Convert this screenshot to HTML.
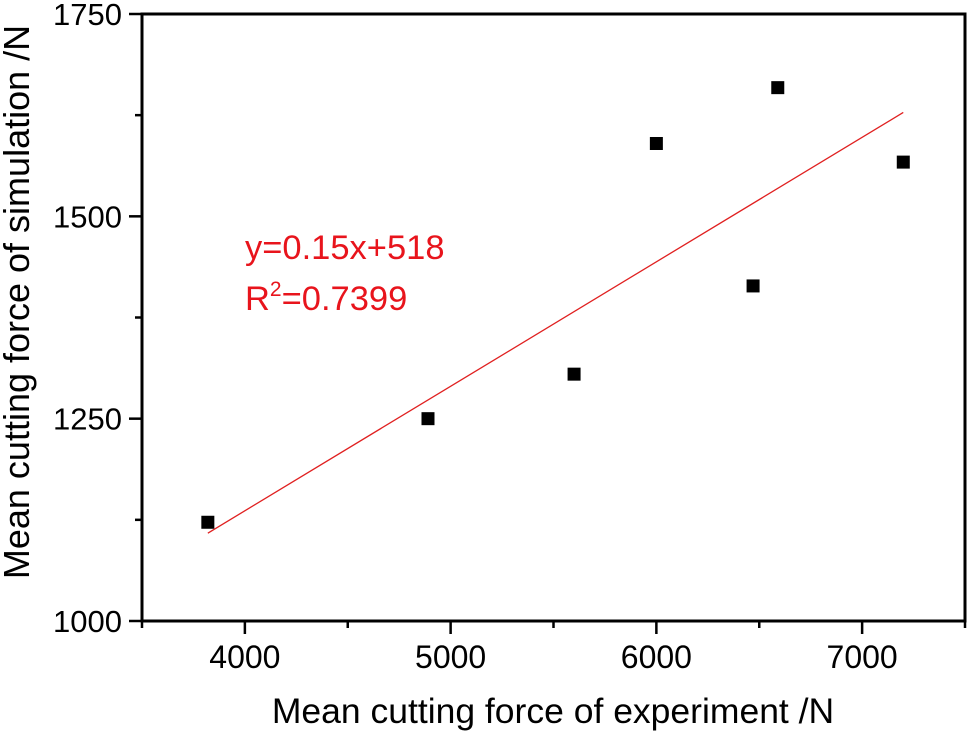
<!DOCTYPE html>
<html><head><meta charset="utf-8"><style>
html,body{margin:0;padding:0;background:#fff;}
svg{display:block;font-family:"Liberation Sans",Arial,sans-serif;}
</style></head><body>
<svg id="chart" width="968" height="733"></svg>
<script>
const xTicks=[4000,5000,6000,7000];
const yTicks=[1000,1250,1500,1750];
const xVals=[3820,4890,5600,6000,6470,6590,7200];
const yVals=[1122,1250,1305,1590,1414,1659,1567];
const fitSlope=0.1538, fitIntercept=521;
const fitRange=[3820,7200];
const L=142,R=965,T=14,B=621;
const X=v=>L+(v-3500)/4000*(R-L);
const Y=v=>B-(v-1000)/750*(B-T);
const NS='http://www.w3.org/2000/svg';
const svg=document.getElementById('chart');
function mk(t,a,p){const e=document.createElementNS(NS,t);for(const k in a)e.setAttribute(k,a[k]);(p||svg).appendChild(e);return e;}
const frame=mk('rect',{x:L,y:T,width:R-L,height:B-T,fill:'none',stroke:'#000','stroke-width':3});


for(let v=3500;v<=7500;v+=500){
  const major=v%1000===0;
  const t=mk('line',{x1:X(v),x2:X(v),y1:B,y2:B+(major?13:7),stroke:'#000','stroke-width':2.5});
  
  
}
xTicks.forEach(v=>{const t=mk('text',{x:X(v),y:668,'text-anchor':'middle','font-size':32});t.textContent=v;
  
  });
for(let v=1000;v<=1750;v+=125){
  const major=v%250===0;
  const t=mk('line',{x1:L,x2:L-(major?13:7),y1:Y(v),y2:Y(v),stroke:'#000','stroke-width':2.5});
  
  
}
yTicks.forEach(v=>{const t=mk('text',{x:122,y:Y(v)+11,'text-anchor':'end','font-size':31});t.textContent=v;
  
  });
const xt=mk('text',{x:553,y:723,'text-anchor':'middle','font-size':35.5});xt.textContent='Mean cutting force of experiment /N';


const yt=mk('text',{x:0,y:0,'text-anchor':'middle','font-size':36,transform:'translate(29,302) rotate(-90)'});yt.textContent='Mean cutting force of simulation /N';


const fl=mk('line',{x1:X(fitRange[0]),y1:Y(fitSlope*fitRange[0]+fitIntercept),x2:X(fitRange[1]),y2:Y(fitSlope*fitRange[1]+fitIntercept),stroke:'#e02020','stroke-width':1.3});


xVals.forEach((xv,i)=>{const p=mk('rect',{x:X(xv)-6.5,y:Y(yVals[i])-6.5,width:13,height:13,fill:'#000'});
  
  });
const eq=mk('text',{x:245,y:259,'font-size':34.5,fill:'#e8141c'});eq.textContent='y=0.15x+518';


const r2=mk('text',{x:245,y:310,'font-size':34.5,fill:'#e8141c'});
r2.innerHTML='R<tspan dy="-14" font-size="21">2</tspan><tspan dy="14">=0.7399</tspan>';


</script>
</body></html>
